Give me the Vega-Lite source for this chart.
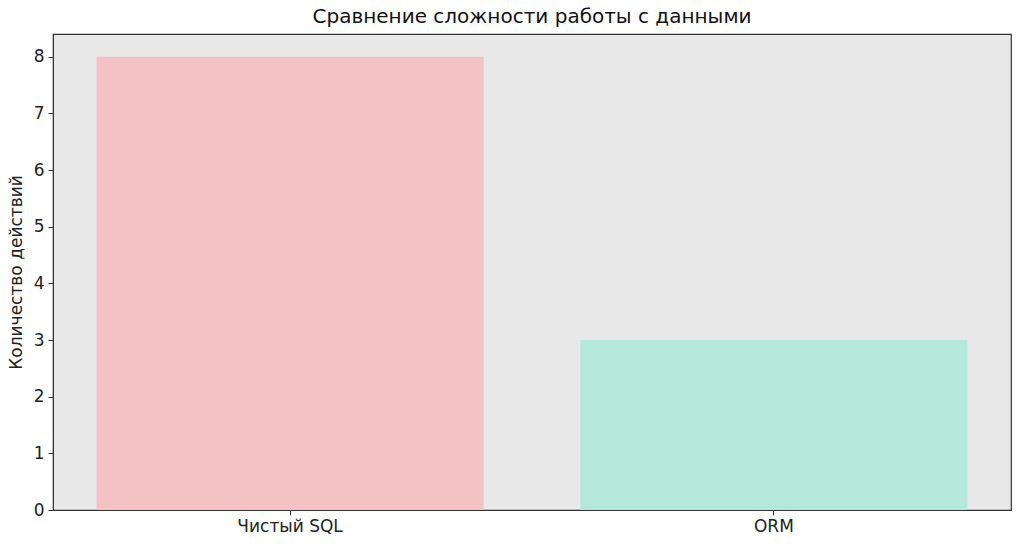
{
  "$schema": "https://vega.github.io/schema/vega-lite/v6.json",
  "autosize": {"type": "none"},
  "width": 958,
  "height": 476,
  "padding": {"left": 53, "top": 34, "right": 13, "bottom": 42},
  "background": "white",
  "data": {
    "values": [
      {"approach": "Чистый SQL", "actions": 8},
      {"approach": "ORM", "actions": 3}
    ]
  },
  "title": {
    "text": "Сравнение сложности работы с данными",
    "font": "DejaVu Sans",
    "fontSize": 20,
    "fontWeight": "normal",
    "color": "#111",
    "anchor": "middle",
    "offset": 7
  },
  "config": {
    "view": {"fill": "#e8e8e8", "stroke": "#333", "strokeWidth": 1.2},
    "axis": {
      "labelFont": "DejaVu Sans",
      "titleFont": "DejaVu Sans",
      "labelFontSize": 17,
      "titleFontSize": 17,
      "titleFontWeight": "normal",
      "labelColor": "#222",
      "titleColor": "#222",
      "domainColor": "#333",
      "tickColor": "#333",
      "tickSize": 5,
      "grid": false
    }
  },
  "mark": {"type": "bar", "opacity": 1},
  "encoding": {
    "x": {
      "field": "approach",
      "type": "nominal",
      "sort": null,
      "title": null,
      "scale": {"paddingInner": 0.2, "paddingOuter": 0.09},
      "axis": {"labelAngle": 0, "labelPadding": 3}
    },
    "y": {
      "field": "actions",
      "type": "quantitative",
      "title": "Количество действий",
      "scale": {"domain": [0, 8.4], "nice": false},
      "axis": {"values": [0, 1, 2, 3, 4, 5, 6, 7, 8], "labelPadding": 4, "titlePadding": 8}
    },
    "color": {
      "field": "approach",
      "type": "nominal",
      "legend": null,
      "scale": {"domain": ["Чистый SQL", "ORM"], "range": ["#f4c2c4", "#b4e9d9"]}
    }
  }
}
